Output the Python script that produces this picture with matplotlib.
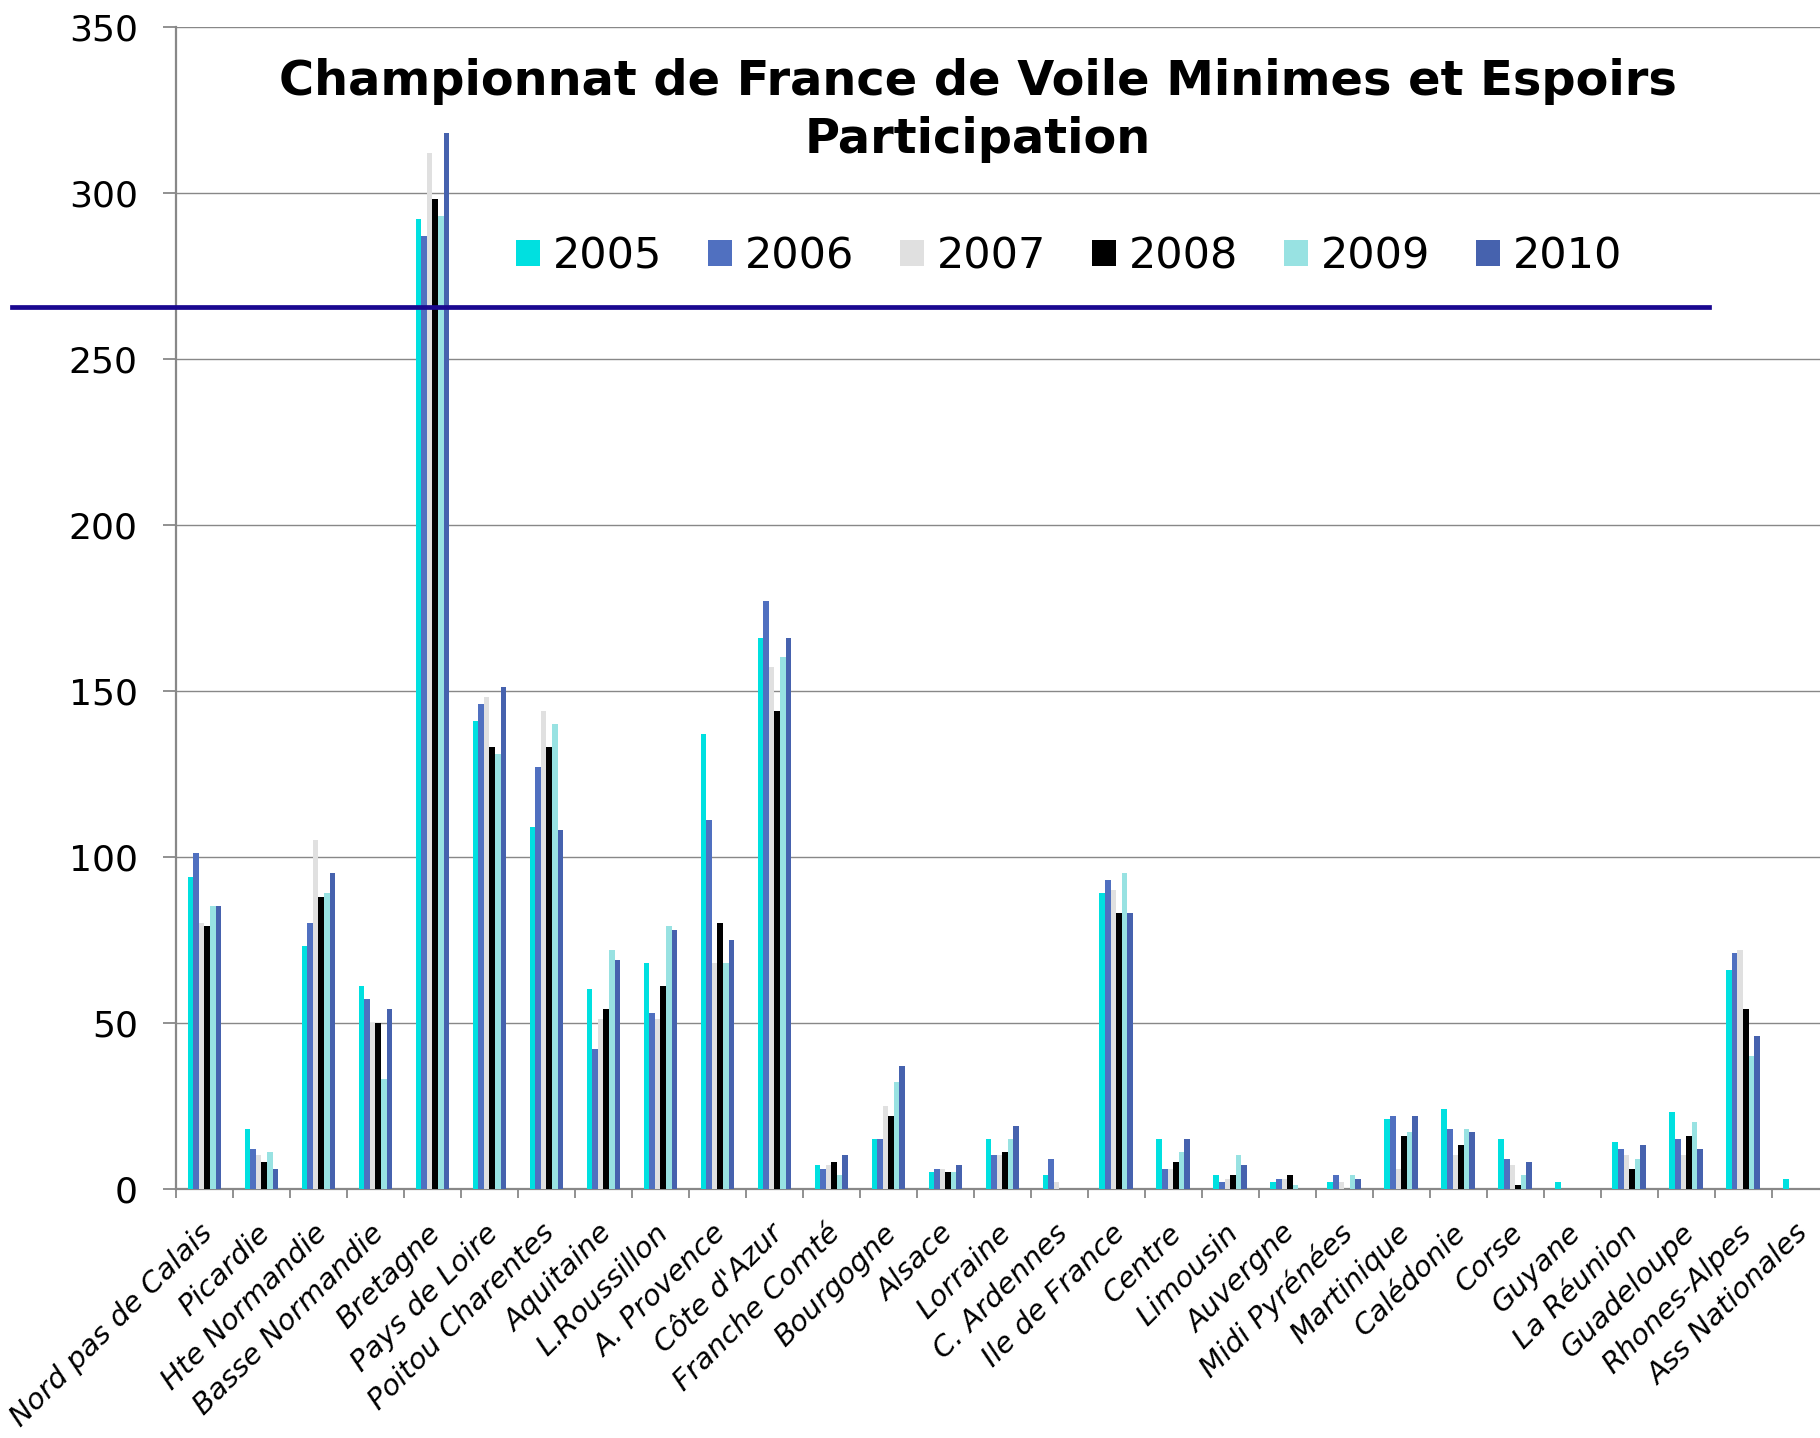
import numpy as np
import matplotlib
matplotlib.use('Agg')
import matplotlib.pyplot as plt
import matplotlib.transforms as mtransforms
from matplotlib.lines import Line2D


regions = ['Nord pas de Calais', 'Picardie', 'Hte Normandie', 'Basse Normandie', 'Bretagne',
           'Pays de Loire', 'Poitou Charentes', 'Aquitaine', 'L.Roussillon', 'A. Provence',
           "Côte d'Azur", 'Franche Comté', 'Bourgogne', 'Alsace', 'Lorraine', 'C. Ardennes',
           'Ile de France', 'Centre', 'Limousin', 'Auvergne', 'Midi Pyrénées', 'Martinique',
           'Calédonie', 'Corse', 'Guyane', 'La Réunion', 'Guadeloupe', 'Rhones-Alpes',
           'Ass Nationales']

years = ['2005', '2006', '2007', '2008', '2009', '2010']

p2005 = [94, 18, 73, 61, 292, 141, 109, 60, 68, 137, 166, 7, 15, 5, 15, 4, 89, 15, 4, 2, 2, 21, 24, 15, 2, 14, 23, 66, 3]
p2006 = [101, 12, 80, 57, 287, 146, 127, 42, 53, 111, 177, 6, 15, 6, 10, 9, 93, 6, 2, 3, 4, 22, 18, 9, 0, 12, 15, 71, 0]
p2007 = [80, 10, 105, 50, 312, 148, 144, 51, 51, 68, 157, 7, 25, 6, 10, 2, 90, 6, 3, 3, 2, 6, 10, 7, 0, 10, 10, 72, 0]
p2008 = [79, 8, 88, 50, 298, 133, 133, 54, 61, 80, 144, 8, 22, 5, 11, 0, 83, 8, 4, 4, 0, 16, 13, 1, 0, 6, 16, 54, 0]
p2009 = [85, 11, 89, 33, 293, 131, 140, 72, 79, 68, 160, 4, 32, 5, 15, 0, 95, 11, 10, 1, 4, 17, 18, 4, 0, 9, 20, 40, 0]
p2010 = [85, 6, 95, 54, 318, 151, 108, 69, 78, 75, 166, 10, 37, 7, 19, 0, 83, 15, 7, 0, 3, 22, 17, 8, 0, 13, 12, 46, 0]

series = [p2005, p2006, p2007, p2008, p2009, p2010]
colors = ['#00E0E0', '#5070C0', '#E0E0E0', '#000000', '#98E2E2', '#4662AE']

grid_col = '#888888'

fig = plt.figure(figsize=(18.2, 14.38), dpi=100)
ax = fig.add_axes([0.0967, 0.1734, 0.908, 0.808])

x = np.arange(len(regions))
w = 0.098
for k, (vals, col, yr) in enumerate(zip(series, colors, years)):
    ax.bar(x + (k - 2.5) * w, vals, width=w, color=col, label=yr, zorder=3)

ax.set_xlim(-0.5, len(regions) - 0.5)
ax.set_ylim(0, 350)
ax.set_yticks(range(0, 351, 50))
ax.grid(axis='y', color=grid_col, linewidth=1.0, zorder=0)
ax.set_axisbelow(True)

for s in ['top', 'right']:
    ax.spines[s].set_visible(False)
for s in ['left', 'bottom']:
    ax.spines[s].set_color(grid_col)
    ax.spines[s].set_linewidth(1.6)

ax.tick_params(axis='y', labelsize=26, length=9.5, width=1.3, color=grid_col, pad=18)
ax.set_xticks(x)
ax.set_xticklabels(regions, rotation=45, ha='right', va='center',
                   rotation_mode='anchor', fontstyle='italic', fontsize=21)
ax.tick_params(axis='x', which='major', length=0, pad=29)
ax.set_xticks(np.arange(-0.5, len(regions), 1), minor=True)
ax.tick_params(axis='x', which='minor', length=6.5, width=1.3, color=grid_col)

# nudge the rotated labels a little to the right
shift = mtransforms.ScaledTranslation(4 / 100, 0, fig.dpi_scale_trans)
for lbl in ax.get_xticklabels():
    lbl.set_transform(lbl.get_transform() + shift)

fig.text(0.5374, 0.9339, 'Championnat de France de Voile Minimes et Espoirs',
         ha='center', va='baseline', fontsize=34.5, fontweight='bold')
fig.text(0.5374, 0.8936, 'Participation',
         ha='center', va='baseline', fontsize=34.5, fontweight='bold')

fig.legend(loc='center', bbox_to_anchor=(0.5875, 0.8215), ncol=6, frameon=False,
           fontsize=31, handlelength=0.55, handleheight=0.55, handletextpad=0.3,
           columnspacing=1.07)

fig.add_artist(Line2D([0.0064, 0.939], [0.7865, 0.7865], transform=fig.transFigure,
                      color='#1A0890', linewidth=3.4, zorder=10))

fig.savefig('out.png', dpi=100)
